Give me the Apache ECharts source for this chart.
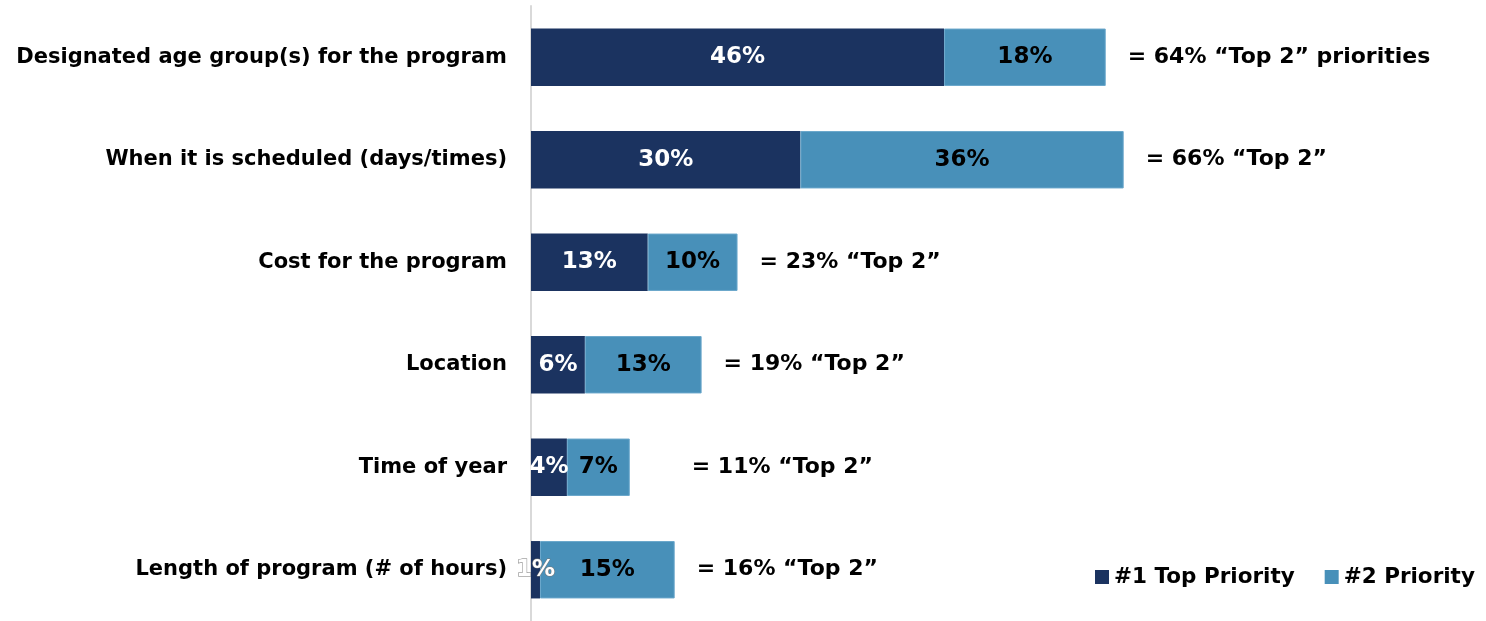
<!DOCTYPE html>
<html>
<head>
<meta charset="utf-8">
<script src="https://cdn.jsdelivr.net/npm/echarts@6/dist/echarts.min.js"></script>
<style>
  html, body { margin: 0; padding: 0; background: #fff; }
  #chart { width: 1486px; height: 621px; }
</style>
</head>
<body>
<div id="chart"></div>
<script>
const categories = [
  'Designated age group(s) for the program',
  'When it is scheduled (days/times)',
  'Cost for the program',
  'Location',
  'Time of year',
  'Length of program (# of hours)'
];
const topPriority = [46, 30, 13, 6, 4, 1];
const secondPriority = [18, 36, 10, 13, 7, 15];
const totalLabels = [
  '= 64% \u201cTop 2\u201d priorities',
  '= 66% \u201cTop 2\u201d',
  '= 23% \u201cTop 2\u201d',
  '= 19% \u201cTop 2\u201d',
  '= 11% \u201cTop 2\u201d',
  '= 16% \u201cTop 2\u201d'
];
// the "Time of year" total sits further out in the original
const totalOffsets = [0, 0, 0, 0, 40, 0];

const font = 'DejaVu Sans';
const chart = echarts.init(document.getElementById('chart'));

chart.setOption({
  animation: false,
  textStyle: { fontFamily: font },
  grid: { left: 531, top: 6, width: 898, height: 620 },
  xAxis: { type: 'value', min: 0, max: 100, show: false },
  yAxis: {
    type: 'category',
    data: categories,
    inverse: true,
    axisTick: { show: false },
    axisLine: { lineStyle: { color: '#d9d9d9', width: 2 } },
    axisLabel: { color: '#000', fontWeight: 'bold', fontSize: 21, margin: 24, fontFamily: font }
  },
  legend: {
    left: 1095, top: 566, padding: 0, width: 391,
    itemWidth: 14, itemHeight: 14, itemGap: 30,
    icon: 'rect',
    itemStyle: { borderWidth: 0 },
    textStyle: { color: '#000', fontWeight: 'bold', fontSize: 21.5, fontFamily: font },
    data: ['#1 Top Priority', '#2 Priority']
  },
  series: [
    {
      name: '#1 Top Priority',
      type: 'bar',
      stack: 'total',
      barCategoryGap: '44%',
      data: topPriority.map((v, i) => i === 5
        ? { value: v, label: { textBorderColor: '#777', textBorderWidth: 1 } }
        : v),
      itemStyle: { color: '#1b3360' },
      label: {
        show: true, position: 'inside', color: '#fff', fontWeight: 'bold', fontSize: 23,
        fontFamily: font, formatter: '{c}%'
      },
      labelLayout: { hideOverlap: false }
    },
    {
      name: '#2 Priority',
      type: 'bar',
      stack: 'total',
      data: secondPriority,
      itemStyle: { color: '#4890b9', borderColor: '#6aa7cb', borderWidth: 1 },
      label: {
        show: true, position: 'inside', color: '#000', fontWeight: 'bold', fontSize: 23,
        fontFamily: font, formatter: '{c}%'
      }
    },
    {
      name: 'total',
      type: 'bar',
      stack: 'total',
      data: categories.map((c, i) => ({
        value: 0,
        label: { offset: [totalOffsets[i], 0] }
      })),
      itemStyle: { color: 'transparent' },
      label: {
        show: true, position: 'right', distance: 22, color: '#000', fontWeight: 'bold',
        fontSize: 22, fontFamily: font,
        formatter: p => totalLabels[p.dataIndex]
      }
    }
  ]
});
</script>
</body>
</html>
